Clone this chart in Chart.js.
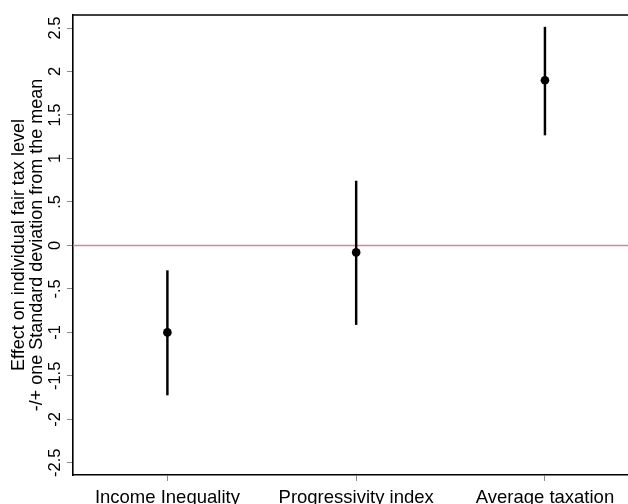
<!DOCTYPE html>
<html>
<head>
<meta charset="utf-8">
<script src="https://cdn.jsdelivr.net/npm/chart.js@4/dist/chart.umd.min.js"></script>
<style>
  html, body { margin: 0; padding: 0; background: #ffffff; overflow: hidden; }
  #wrap { width: 628px; height: 504px; position: relative; }
</style>
</head>
<body>
<div id="wrap"><canvas id="chart" width="628" height="504"></canvas></div>
<script>
// Estimated effects with -/+ one standard deviation bands
const categories = ['Income Inequality', 'Progressivity index', 'Average taxation'];
const effect = [-1.0, -0.08, 1.9];
const lower = [-1.72, -0.91, 1.27];
const upper = [-0.29, 0.74, 2.51];

// Y axis ticks, Stata-style labels
const yTickValues = [-2.5, -2, -1.5, -1, -0.5, 0, 0.5, 1, 1.5, 2, 2.5];
const yTickLabels = ['-2.5', '-2', '-1.5', '-1', '-.5', '0', '.5', '1', '1.5', '2', '2.5'];

const yTitle = ['Effect on individual fair tax level', '-/+ one Standard deviation from the mean'];

const X_MIN = -0.5, X_MAX = 2.44;
const Y_MIN = -2.64, Y_MAX = 2.65;
const FONT = "'Liberation Sans', Arial, Helvetica, sans-serif";

const points = categories.map((c, i) => ({ x: i, y: effect[i] }));
const bands = categories.map((c, i) => ({ x: i, y: [lower[i], upper[i]] }));

// Frame line along the top of the plot region
const topFrame = {
  id: 'topFrame',
  afterDraw(chart) {
    const { ctx, chartArea } = chart;
    ctx.save();
    ctx.strokeStyle = '#000000';
    ctx.lineWidth = 1.6;
    ctx.beginPath();
    ctx.moveTo(chartArea.left - 0.8, chartArea.top);
    ctx.lineTo(chartArea.right, chartArea.top);
    ctx.stroke();
    ctx.restore();
  }
};

new Chart(document.getElementById('chart'), {
  type: 'scatter',
  data: {
    datasets: [
      {
        type: 'scatter',
        data: points,
        pointRadius: 4.3,
        pointHoverRadius: 4.3,
        backgroundColor: '#000000',
        borderWidth: 0,
        order: 0
      },
      {
        type: 'bar',
        data: bands,
        barThickness: 1.8,
        backgroundColor: '#000000',
        borderWidth: 0,
        order: 1
      },
      {
        type: 'line',
        data: [{ x: X_MIN, y: 0 }, { x: X_MAX, y: 0 }],
        borderColor: '#d9849b',
        borderWidth: 1.5,
        pointRadius: 0,
        fill: false,
        order: 2
      }
    ]
  },
  options: {
    responsive: false,
    animation: false,
    events: [],
    layout: { autoPadding: false, padding: { top: 15, right: 0, bottom: 0, left: 0 } },
    plugins: {
      legend: { display: false },
      tooltip: { enabled: false }
    },
    scales: {
      x: {
        type: 'linear',
        min: X_MIN,
        max: X_MAX,
        offset: false,
        afterBuildTicks(scale) {
          scale.ticks = categories.map((c, i) => ({ value: i }));
        },
        afterFit(scale) {
          scale.height = 29;
          scale.paddingLeft = 0;
          scale.paddingRight = 0;
        },
        ticks: {
          color: '#000000',
          font: { family: FONT, size: 18.5 },
          padding: 5.5,
          maxRotation: 0,
          minRotation: 0,
          callback(value, index) { return categories[index]; }
        },
        grid: {
          offset: false,
          drawOnChartArea: false,
          drawTicks: true,
          tickLength: 6,
          tickColor: '#8a8a8a',
          tickWidth: 1
        },
        border: { display: true, color: '#000000', width: 1.6 }
      },
      y: {
        type: 'linear',
        min: Y_MIN,
        max: Y_MAX,
        afterBuildTicks(scale) {
          scale.ticks = yTickValues.map(v => ({ value: v }));
        },
        afterFit(scale) { scale.width = 73; },
        ticks: {
          color: '#000000',
          font: { family: FONT, size: 16.5 },
          padding: -3,
          minRotation: 90,
          maxRotation: 90,
          crossAlign: 'center',
          callback(value, index) { return yTickLabels[index]; }
        },
        grid: {
          drawOnChartArea: false,
          drawTicks: true,
          tickLength: 6,
          tickColor: '#8a8a8a',
          tickWidth: 1
        },
        border: { display: true, color: '#000000', width: 1.6 },
        title: {
          display: true,
          text: yTitle,
          color: '#000000',
          font: { family: FONT, size: 18, lineHeight: 1.0 },
          padding: { top: 10.5, bottom: 0 }
        }
      }
    }
  },
  plugins: [topFrame]
});
</script>
</body>
</html>
